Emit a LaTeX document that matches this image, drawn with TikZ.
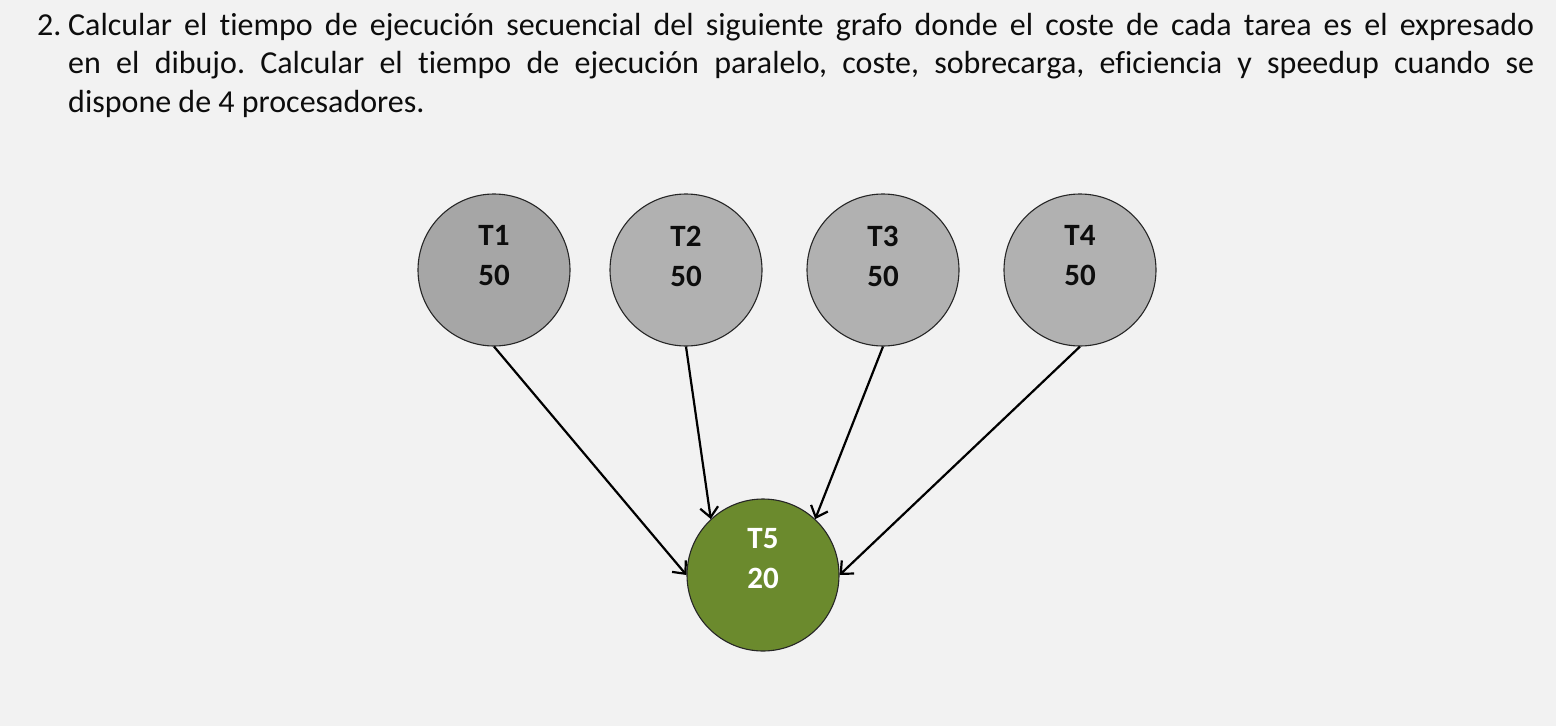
\documentclass[tikz,border=0pt]{standalone}
\usepackage{fontspec}
\setmainfont{Carlito}[Ligatures=NoCommon]
\usetikzlibrary{arrows.meta}
\definecolor{bg}{HTML}{F2F2F2}
\definecolor{gone}{HTML}{A6A6A6}
\definecolor{gtwo}{HTML}{B1B1B1}
\definecolor{tgreen}{HTML}{6B8A2D}
\definecolor{ink}{HTML}{0D0D0D}
\tikzset{
  task/.style={circle, draw=black!85, line width=1.1pt, minimum size=152pt, inner sep=0pt},
  tasktext/.style={align=center, font=\bfseries\fontsize{31}{40}\selectfont, inner sep=0pt},
  dep/.style={line width=2.2pt, -{Straight Barb[length=10pt,width=18pt,line width=2.2pt]}}
}
\begin{document}
\begin{tikzpicture}[x=1pt,y=-1pt]
\fill[bg] (0,0) rectangle (1556,726);
\useasboundingbox (0,0) rectangle (1556,726);
\node[anchor=base west, inner sep=0pt, text=ink] (q) at (37,35) {\parbox[t]{1497pt}{\fontsize{32}{38.5}\selectfont\frenchspacing\noindent\hangindent=31pt\hangafter=1 \makebox[31pt][l]{2.}Calcular el tiempo de ejecución secuencial del siguiente grafo donde el coste de cada tarea es el expresado\linebreak{} en el dibujo. Calcular el tiempo de ejecución paralelo, coste, sobrecarga, eficiencia y speedup cuando se\linebreak{} dispone de 4 procesadores.}};
\node[task, fill=gone] (t1) at (494,270) {};
\node[task, fill=gtwo] (t2) at (686,270) {};
\node[task, fill=gtwo] (t3) at (883,270) {};
\node[task, fill=gtwo] (t4) at (1080,270) {};
\node[task, fill=tgreen] (t5) at (763,575) {};
\node[tasktext, text=ink] (l1) at ([yshift=14pt]t1.center) {T1\\50};
\node[tasktext, text=ink] (l2) at ([yshift=14pt]t2.center) {T2\\50};
\node[tasktext, text=ink] (l3) at ([yshift=14pt]t3.center) {T3\\50};
\node[tasktext, text=ink] (l4) at ([yshift=14pt]t4.center) {T4\\50};
\node[tasktext, text=white] (l5) at ([yshift=16pt]t5.center) {T5\\20};
\draw[dep] (t1.south) -- (t5.west);
\draw[dep] (t2.south) -- (t5.133);
\draw[dep] (t3.south) -- (t5.47);
\draw[dep] (t4.south) -- (t5.east);
\end{tikzpicture}
\end{document}
